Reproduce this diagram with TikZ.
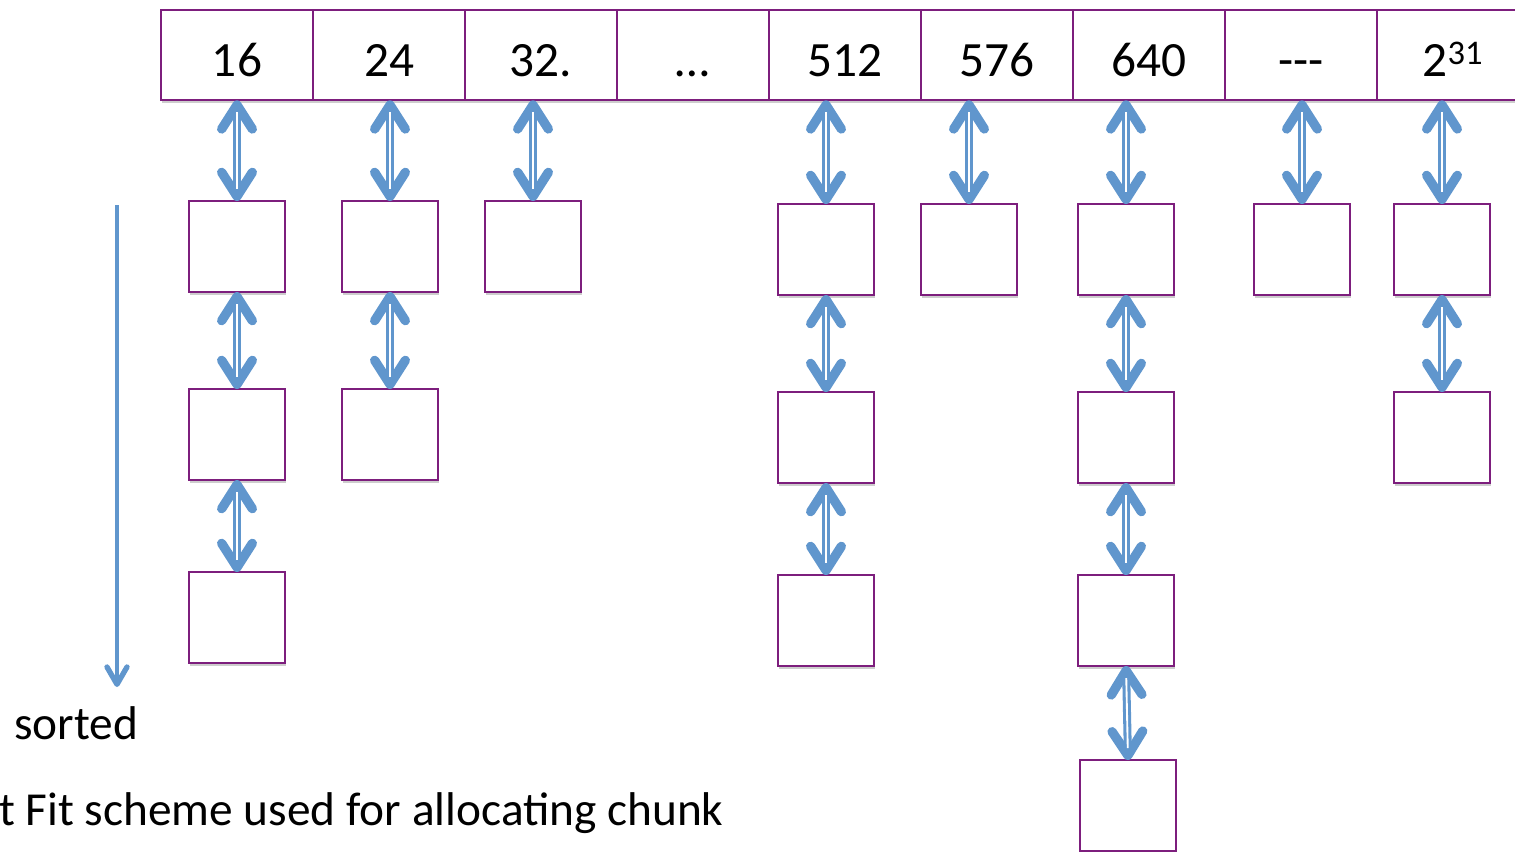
\documentclass[tikz,border=0pt]{standalone}
\usepackage{fontspec}
\setmainfont{Carlito}
\usetikzlibrary{arrows.meta,shadows}
\definecolor{framepurple}{RGB}{125,30,125}
\definecolor{linkblue}{RGB}{96,150,205}
\begin{document}
\begin{tikzpicture}[x=0.75pt,y=-0.75pt,
  softshadow/.style={drop shadow={shadow xshift=0.8pt,shadow yshift=-2pt,opacity=0.28,fill=black!70}},
  cell/.style={draw=framepurple,line width=1.6pt,fill=white,softshadow,
    minimum width=114pt,minimum height=68pt,inner sep=0pt,outer sep=0pt,
    font=\fontsize{37}{44}\selectfont,text height=32pt,text depth=0pt},
  chunk/.style={draw=framepurple,line width=1.6pt,fill=white,softshadow,
    minimum width=72pt,minimum height=68.25pt,inner sep=0pt,outer sep=0pt},
  barb/.tip={Straight Barb[length=18pt,width=23pt,line width=7pt,round]},
  link/.style={draw=linkblue,line width=6pt,barb-barb,
    postaction={draw=white,line width=1.4pt,-,shorten <=9pt,shorten >=9pt}},
  sortarrow/.style={draw=linkblue,line width=3.6pt,
    -{Straight Barb[length=13pt,width=15pt,line width=4pt,round]}},
  caption/.style={font=\fontsize{35.5}{42}\selectfont,inner sep=0pt,anchor=base west}
]
\useasboundingbox (0,0) rectangle (1515,851);

% size classes along the top row
\foreach \name/\cx/\txt in {c16/237/16, c24/389/24, c32/541/{32.}, cdots/693/{\char"2026},
    c512/845/512, c576/997/576, c640/1149/640, cmore/1301/{-\kern0pt-\kern0pt-},
    cmax/1453/{2\textsuperscript{31}}}
  \node[cell] (\name) at (\cx,55) {\txt};

% free chunks hanging below each size class
\node[chunk] (a1) at (237,246.5) {};
\node[chunk] (a2) at (237,434.5) {};
\node[chunk] (a3) at (237,617.5) {};
\node[chunk] (b1) at (390,246.5) {};
\node[chunk] (b2) at (390,434.5) {};
\node[chunk] (d1) at (533,246.5) {};
\node[chunk] (e1) at (826,249.5) {};
\node[chunk] (e2) at (826,437.5) {};
\node[chunk] (e3) at (826,620.5) {};
\node[chunk] (f1) at (969,249.5) {};
\node[chunk] (g1) at (1126,249.5) {};
\node[chunk] (g2) at (1126,437.5) {};
\node[chunk] (g3) at (1126,620.5) {};
\node[chunk] (g4) at (1128,805.5) {};
\node[chunk] (h1) at (1302,249.5) {};
\node[chunk] (k1) at (1442,249.5) {};
\node[chunk] (k2) at (1442,437.5) {};

% links from each size class to its first chunk
\foreach \c/\b in {c16/a1, c24/b1, c32/d1, c512/e1, c576/f1, c640/g1, cmore/h1, cmax/k1}
  \draw[link] (\b.north |- \c.south) -- (\b.north);

% links between consecutive chunks
\foreach \u/\l in {a1/a2, a2/a3, b1/b2, e1/e2, e2/e3, g1/g2, g2/g3, g3/g4, k1/k2}
  \draw[link] (\u.south) -- (\l.north);

% sort direction
\coordinate (sortTop) at (117,205);
\coordinate (sortEnd) at (117,687);
\draw[sortarrow] (sortTop) -- (sortEnd);

\node[caption] (sorted) at (14,739) {sorted};
\node[caption] (scheme) at (-1,825) {t Fit scheme used for allocating chunk};
\end{tikzpicture}
\end{document}
